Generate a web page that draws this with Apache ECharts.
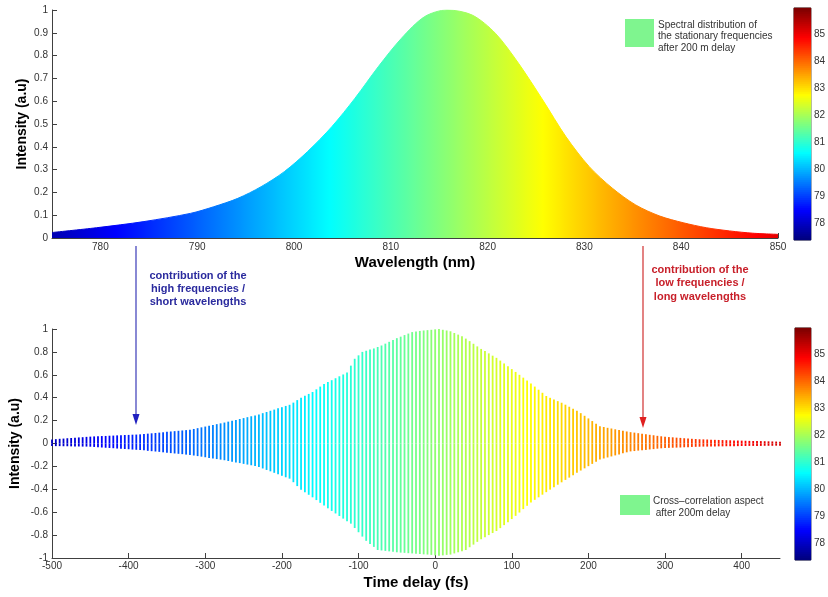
<!DOCTYPE html>
<html>
<head>
<meta charset="utf-8">
<script src="https://cdn.jsdelivr.net/npm/echarts@6/dist/echarts.min.js"></script>
<style>
html,body{margin:0;padding:0;background:#fff;}
#chart{width:828px;height:597px;}
</style>
</head>
<body>
<div id="chart"></div>
<script>
// ---- Top panel: spectrum ----
const wavelengthNm = [775.0, 779.6, 784.5, 789.3, 791.7, 794.2, 796.6, 799.0, 801.4, 803.9, 806.3, 808.7, 811.1, 813.5, 815.8, 818.4, 820.8, 823.2, 825.7, 828.1, 830.5, 832.9, 835.3, 837.8, 840.2, 842.6, 845.0, 847.4, 850.0];
const spectrumIntensity = [0.024, 0.045, 0.072, 0.108, 0.137, 0.174, 0.225, 0.291, 0.379, 0.488, 0.613, 0.751, 0.876, 0.971, 1.0, 0.978, 0.898, 0.766, 0.605, 0.444, 0.313, 0.218, 0.145, 0.096, 0.067, 0.045, 0.031, 0.021, 0.016];
const wavelengthTicks = [780, 790, 800, 810, 820, 830, 840, 850];

// ---- Bottom panel: cross-correlation fringes (extremes at each sample) ----
const delayFs = [-500,-495,-490,-485,-480,-475,-470,-465,-460,-455,
-450,-445,-440,-435,-430,-425,-420,-415,-410,-405,
-400,-395,-390,-385,-380,-375,-370,-365,-360,-355,
-350,-345,-340,-335,-330,-325,-320,-315,-310,-305,
-300,-295,-290,-285,-280,-275,-270,-265,-260,-255,
-250,-245,-240,-235,-230,-225,-220,-215,-210,-205,
-200,-195,-190,-185,-180,-175,-170,-165,-160,-155,
-150,-145,-140,-135,-130,-125,-120,-115,-110,-105,
-100,-95,-90,-85,-80,-75,-70,-65,-60,-55,
-50,-45,-40,-35,-30,-25,-20,-15,-10,-5,
0,5,10,15,20,25,30,35,40,45,
50,55,60,65,70,75,80,85,90,95,
100,105,110,115,120,125,130,135,140,145,
150,155,160,165,170,175,180,185,190,195,
200,205,210,215,220,225,230,235,240,245,
250,255,260,265,270,275,280,285,290,295,
300,305,310,315,320,325,330,335,340,345,
350,355,360,365,370,375,380,385,390,395,
400,405,410,415,420,425,430,435,440,445,
450];
const upperEnvelope = [0.036,0.038,0.041,0.043,0.046,0.048,0.050,0.053,0.055,0.058,
0.060,0.062,0.063,0.065,0.066,0.068,0.069,0.071,0.072,0.074,
0.075,0.077,0.078,0.080,0.083,0.086,0.089,0.092,0.095,0.098,
0.102,0.105,0.108,0.111,0.114,0.117,0.120,0.127,0.134,0.141,
0.148,0.155,0.162,0.169,0.176,0.183,0.191,0.199,0.206,0.214,
0.222,0.230,0.238,0.245,0.254,0.265,0.275,0.286,0.296,0.307,
0.317,0.328,0.338,0.357,0.379,0.400,0.417,0.433,0.450,0.473,
0.497,0.520,0.537,0.553,0.570,0.587,0.603,0.620,0.680,0.740,
0.770,0.800,0.810,0.820,0.830,0.843,0.856,0.872,0.888,0.904,
0.920,0.933,0.947,0.960,0.973,0.979,0.983,0.987,0.990,0.993,
0.997,1.000,0.993,0.987,0.980,0.965,0.951,0.936,0.916,0.894,
0.871,0.848,0.826,0.807,0.787,0.767,0.748,0.724,0.699,0.675,
0.650,0.625,0.600,0.575,0.550,0.525,0.497,0.470,0.443,0.415,
0.399,0.384,0.370,0.356,0.339,0.321,0.303,0.285,0.265,0.242,
0.219,0.196,0.173,0.150,0.144,0.137,0.131,0.124,0.118,0.112,
0.105,0.099,0.095,0.090,0.085,0.081,0.076,0.072,0.067,0.063,
0.059,0.056,0.054,0.051,0.049,0.046,0.044,0.041,0.039,0.037,
0.036,0.035,0.033,0.032,0.031,0.030,0.029,0.028,0.027,0.026,
0.025,0.024,0.023,0.022,0.021,0.021,0.020,0.019,0.018,0.017,
0.016];
const lowerEnvelope = [-0.022,-0.023,-0.023,-0.024,-0.024,-0.025,-0.026,-0.026,-0.027,-0.027,
-0.028,-0.030,-0.032,-0.035,-0.037,-0.039,-0.041,-0.044,-0.046,-0.048,
-0.050,-0.053,-0.055,-0.057,-0.060,-0.064,-0.067,-0.070,-0.073,-0.077,
-0.080,-0.084,-0.087,-0.090,-0.093,-0.097,-0.100,-0.105,-0.110,-0.115,
-0.120,-0.126,-0.131,-0.136,-0.141,-0.146,-0.153,-0.159,-0.165,-0.171,
-0.178,-0.184,-0.190,-0.196,-0.205,-0.218,-0.231,-0.243,-0.256,-0.269,
-0.282,-0.295,-0.307,-0.338,-0.372,-0.404,-0.426,-0.448,-0.470,-0.494,
-0.518,-0.542,-0.566,-0.589,-0.611,-0.633,-0.656,-0.678,-0.700,-0.738,
-0.775,-0.813,-0.850,-0.877,-0.903,-0.930,-0.934,-0.938,-0.942,-0.946,
-0.950,-0.953,-0.955,-0.958,-0.960,-0.963,-0.965,-0.968,-0.970,-0.973,
-0.977,-0.980,-0.977,-0.973,-0.970,-0.960,-0.950,-0.940,-0.930,-0.906,
-0.883,-0.859,-0.836,-0.818,-0.800,-0.782,-0.764,-0.739,-0.713,-0.687,
-0.660,-0.632,-0.603,-0.573,-0.544,-0.515,-0.492,-0.470,-0.447,-0.425,
-0.403,-0.382,-0.360,-0.339,-0.318,-0.298,-0.277,-0.256,-0.236,-0.217,
-0.198,-0.178,-0.159,-0.140,-0.131,-0.122,-0.113,-0.104,-0.095,-0.086,
-0.077,-0.069,-0.066,-0.062,-0.059,-0.056,-0.052,-0.049,-0.045,-0.042,
-0.040,-0.038,-0.037,-0.036,-0.035,-0.033,-0.032,-0.030,-0.029,-0.028,
-0.027,-0.027,-0.026,-0.026,-0.025,-0.025,-0.024,-0.024,-0.023,-0.023,
-0.022,-0.022,-0.021,-0.021,-0.021,-0.021,-0.020,-0.020,-0.020,-0.019,
-0.019];
const delayTicks = [-500, -400, -300, -200, -100, 0, 100, 200, 300, 400];

// ---- Colorbars ----
const colorbarMin = 77.4;
const colorbarMax = 85.95;
const colorbarTicks = [78, 79, 80, 81, 82, 83, 84, 85];
const colorbarLevelCount = 116;

const jet = ['#00007F','#0000FF','#007FFF','#00FFFF','#7FFF7F','#FFFF00','#FF7F00','#FF0000','#7F0000'];
const FONT = "'Liberation Sans', Arial, Helvetica, sans-serif";

const spectrumData = wavelengthNm.map((w, i) => [w, spectrumIntensity[i]]);
const upperData = delayFs.map((t, i) => [t, upperEnvelope[i]]);
const lowerData = delayFs.map((t, i) => [t, lowerEnvelope[i]]);
const levelCats = [];
const levelData = [];
for (let i = 0; i < colorbarLevelCount; i++) { levelCats.push(String(i)); levelData.push([0, i, i]); }

const axisLineStyle = { color: '#404040', width: 1 };
const tickLabel = { color: '#333', fontSize: 10, fontFamily: FONT };

const chart = echarts.init(document.getElementById('chart'), null, { renderer: 'canvas', width: 828, height: 597 });

chart.setOption({
  animation: false,
  backgroundColor: '#ffffff',
  textStyle: { fontFamily: FONT },
  grid: [
    { left: 52, top: 10, width: 726, height: 228 },
    { left: 52, top: 329, width: 728, height: 229 },
    { left: 794, top: 8, width: 21, height: 232, show: true, borderColor: '#333', borderWidth: 1 },
    { left: 795, top: 328, width: 21, height: 232, show: true, borderColor: '#333', borderWidth: 1 }
  ],
  xAxis: [
    { gridIndex: 0, type: 'value', min: 775, max: 850,
      axisLine: { show: true, onZero: false, lineStyle: axisLineStyle },
      axisTick: { show: true, inside: true, length: 5, lineStyle: axisLineStyle, customValues: wavelengthTicks },
      axisLabel: Object.assign({ margin: 4, customValues: wavelengthTicks }, tickLabel),
      splitLine: { show: false },
      name: 'Wavelength (nm)', nameLocation: 'middle', nameGap: 17,
      nameTextStyle: { fontSize: 15, fontWeight: 'bold', color: '#000', fontFamily: FONT } },
    { gridIndex: 1, type: 'value', min: -500, max: 450,
      axisLine: { show: true, onZero: false, lineStyle: axisLineStyle },
      axisTick: { show: true, inside: true, length: 5, lineStyle: axisLineStyle, customValues: delayTicks },
      axisLabel: Object.assign({ margin: 3, customValues: delayTicks }, tickLabel),
      splitLine: { show: false },
      name: 'Time delay (fs)', nameLocation: 'middle', nameGap: 17,
      nameTextStyle: { fontSize: 15, fontWeight: 'bold', color: '#000', fontFamily: FONT } },
    { gridIndex: 2, type: 'category', data: ['c'], show: false },
    { gridIndex: 3, type: 'category', data: ['c'], show: false }
  ],
  yAxis: [
    { gridIndex: 0, type: 'value', min: 0, max: 1, interval: 0.1,
      axisLine: { show: true, lineStyle: axisLineStyle },
      axisTick: { show: true, inside: true, length: 5, lineStyle: axisLineStyle },
      axisLabel: Object.assign({ margin: 4 }, tickLabel),
      splitLine: { show: false },
      name: 'Intensity (a.u)', nameLocation: 'middle', nameGap: 23, nameMoveOverlap: false,
      nameTextStyle: { fontSize: 14, fontWeight: 'bold', color: '#000', fontFamily: FONT } },
    { gridIndex: 1, type: 'value', min: -1, max: 1, interval: 0.2,
      axisLine: { show: true, onZero: false, lineStyle: axisLineStyle },
      axisTick: { show: true, inside: true, length: 5, lineStyle: axisLineStyle },
      axisLabel: Object.assign({ margin: 4 }, tickLabel),
      splitLine: { show: false },
      name: 'Intensity (a.u)', nameLocation: 'middle', nameGap: 30, nameMoveOverlap: false,
      nameTextStyle: { fontSize: 14, fontWeight: 'bold', color: '#000', fontFamily: FONT } },
    { gridIndex: 2, type: 'category', data: levelCats, show: false },
    { gridIndex: 2, type: 'value', min: colorbarMin, max: colorbarMax, position: 'right',
      axisLine: { show: false },
      axisTick: { show: true, inside: true, length: 4, lineStyle: { color: '#333' }, customValues: colorbarTicks },
      axisLabel: Object.assign({ margin: 3, customValues: colorbarTicks }, tickLabel),
      splitLine: { show: false } },
    { gridIndex: 3, type: 'category', data: levelCats, show: false },
    { gridIndex: 3, type: 'value', min: colorbarMin, max: colorbarMax, position: 'right',
      axisLine: { show: false },
      axisTick: { show: true, inside: true, length: 4, lineStyle: { color: '#333' }, customValues: colorbarTicks },
      axisLabel: Object.assign({ margin: 3, customValues: colorbarTicks }, tickLabel),
      splitLine: { show: false } }
  ],
  visualMap: [
    { type: 'continuous', show: false, seriesIndex: 0, dimension: 0, min: 770.6, max: 858.8, inRange: { color: jet } },
    { type: 'continuous', show: false, seriesIndex: [1, 2], dimension: 0, min: -570, max: 540, inRange: { color: jet } },
    { type: 'continuous', show: false, seriesIndex: [3, 4], dimension: 2, min: 0, max: colorbarLevelCount - 1, inRange: { color: jet } }
  ],
  series: [
    { type: 'line', xAxisIndex: 0, yAxisIndex: 0, data: spectrumData, showSymbol: false, symbol: 'none',
      smooth: 0.3, lineStyle: { width: 1 }, areaStyle: { opacity: 1 }, silent: true },
    { type: 'bar', xAxisIndex: 1, yAxisIndex: 1, data: upperData, stack: 'fringe', barWidth: 1.8, silent: true },
    { type: 'bar', xAxisIndex: 1, yAxisIndex: 1, data: lowerData, stack: 'fringe', barWidth: 1.8, silent: true },
    { type: 'heatmap', xAxisIndex: 2, yAxisIndex: 2, data: levelData, silent: true, progressive: 0, itemStyle: { borderWidth: 0 } },
    { type: 'heatmap', xAxisIndex: 3, yAxisIndex: 4, data: levelData, silent: true, progressive: 0, itemStyle: { borderWidth: 0 } }
  ],
  graphic: [
    // legend top
    { type: 'rect', shape: { x: 625, y: 19, width: 29, height: 28 }, style: { fill: '#7ff58f' } },
    { type: 'text', x: 658, y: 19, style: { text: 'Spectral distribution of\nthe stationary frequencies\nafter 200 m delay', fill: '#333', font: '10px ' + FONT, lineHeight: 11.5 } },
    // legend bottom
    { type: 'rect', shape: { x: 620, y: 495, width: 30, height: 20 }, style: { fill: '#7ff58f' } },
    { type: 'text', x: 653, y: 495, style: { text: 'Cross\u2013correlation aspect\n after 200m delay', fill: '#333', font: '10px ' + FONT, lineHeight: 12 } },
    // blue arrow
    { type: 'line', shape: { x1: 136, y1: 246, x2: 136, y2: 416 }, style: { stroke: '#3a3ab8', lineWidth: 1.2 } },
    { type: 'polygon', shape: { points: [[132.5, 414], [139.5, 414], [136, 425]] }, style: { fill: '#2020c0' } },
    { type: 'text', x: 198, y: 269, style: { text: 'contribution of the\nhigh frequencies /\nshort wavelengths', fill: '#2b2b9e', font: 'bold 11px ' + FONT, align: 'center', lineHeight: 13.3 } },
    // red arrow
    { type: 'line', shape: { x1: 643, y1: 246, x2: 643, y2: 419 }, style: { stroke: '#d03030', lineWidth: 1.2 } },
    { type: 'polygon', shape: { points: [[639.5, 417], [646.5, 417], [643, 428]] }, style: { fill: '#e02020' } },
    { type: 'text', x: 700, y: 263, style: { text: 'contribution of the\nlow frequencies /\nlong wavelengths', fill: '#c8202a', font: 'bold 11px ' + FONT, align: 'center', lineHeight: 13.5 } }
  ]
});
</script>
</body>
</html>
